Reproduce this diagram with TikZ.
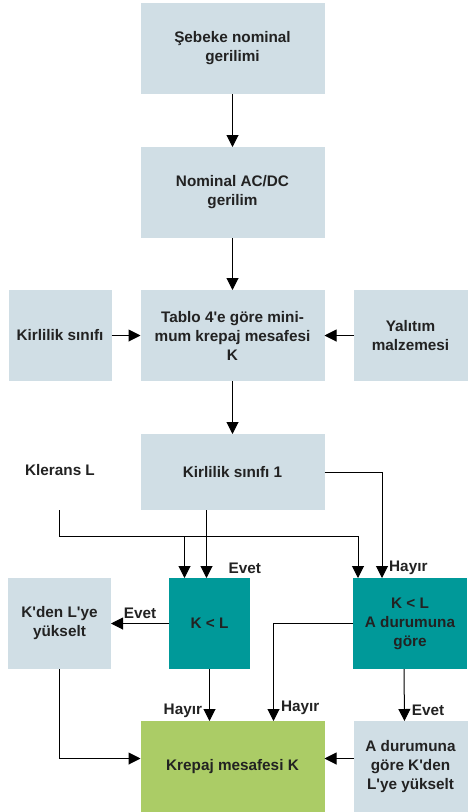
\documentclass[tikz,border=0pt]{standalone}
\usepackage{fontspec}
\setmainfont{Liberation Sans}
\usetikzlibrary{positioning,arrows.meta}
\definecolor{boxgray}{HTML}{D0DEE5}
\definecolor{decide}{HTML}{009999}
\definecolor{result}{HTML}{ABCC66}
\definecolor{ink}{HTML}{222222}
\newcommand{\ap}{\textquotesingle}

\begin{document}
\begin{tikzpicture}[
  font=\bfseries\fontsize{15.3}{19}\selectfont,
  text=ink,
  node distance=52pt and 29pt,
  box/.style={fill=boxgray,minimum width=184pt,minimum height=91pt,align=center,inner sep=0pt,outer sep=0pt},
  sidebox/.style={box,minimum width=103pt},
  widebox/.style={box,minimum width=114pt},
  decbox/.style={box,fill=decide,minimum width=81pt},
  edge/.style={-{Triangle[length=12pt,width=12pt]},draw=black,line width=1pt},
  lbl/.style={inner sep=1pt}
]
\useasboundingbox (0,0) rectangle (467pt,-812pt);

\node[box] (grid) at (232.5pt,-48.5pt) {Şebeke nominal\\gerilimi};
\node[box,below=53pt of grid] (nom) {Nominal AC/DC\\gerilim};
\node[box,below=52pt of nom] (tab) {Tablo 4\ap e göre mini-\\mum krepaj mesafesi\\K};
\node[sidebox,left=of tab] (poll) {Kirlilik sınıfı};
\node[widebox,right=of tab] (insul) {Yalıtım\\malzemesi};
\node[box,below=53pt of tab,minimum height=76pt] (pol1) {Kirlilik sınıfı 1};
\node (cl) at (60pt,-470pt) {Klerans L};

\node[decbox,below=68pt of pol1,xshift=-23pt] (kl) {K < L};
\node[decbox,minimum width=114pt,right=103pt of kl] (akl) {K < L\\A durumuna\\göre};
\node[sidebox,left=58pt of kl] (raise) {K\ap den L\ap ye\\yükselt};
\node[box,fill=result,below=of kl,xshift=23pt] (krep) {Krepaj mesafesi K};
\node[widebox,right=of krep] (araise) {A durumuna\\göre K\ap den\\L\ap ye yükselt};

\draw[edge] (grid) -- (nom);
\draw[edge] (nom) -- (tab);
\draw[edge] (poll) -- (tab);
\draw[edge] (insul) -- (tab);
\draw[edge] (tab) -- (pol1);

% clearance line
\coordinate (clfoot) at (59pt,-510pt);
\coordinate (clbus) at (358pt,-536pt);
\draw[edge] (clfoot) |- (clbus) -- (clbus |- akl.north);
\draw[edge] ([xshift=-25pt]kl.north |- clbus) -- ([xshift=-25pt]kl.north);
\draw[edge] ([xshift=-26pt]pol1.south) -- ([xshift=-26pt]pol1.south |- kl.north);
\draw[edge] (pol1.east) -| ([xshift=-28pt]akl.north);
\node[lbl,anchor=west] (kly) at ([xshift=18pt,yshift=10pt]kl.north) {Evet};
\node[lbl,anchor=west] (akln) at ([xshift=-22pt,yshift=10pt]akl.north) {Hayır};

\draw[edge] (kl) -- node[lbl,above=3pt] (ky) {Evet} (raise);
\draw[edge] (kl) -- (kl.south |- krep.north)
  node[lbl,left=6pt,pos=0.8] (kn) {Hayır};
\draw[edge] (akl.west) -| ([xshift=41pt]krep.north)
  node[lbl,right=6pt,pos=0.93] (akn) {Hayır};
\draw[edge] ([xshift=-6pt]akl.south) -- ([xshift=-6pt]araise.north)
  node[lbl,right=6pt,pos=0.8] (aky) {Evet};
\draw[edge] (raise.south) |- ([yshift=8pt]krep.west);
\draw[edge] ([yshift=8pt]araise.west) -- ([yshift=8pt]krep.east);
\end{tikzpicture}
\end{document}
